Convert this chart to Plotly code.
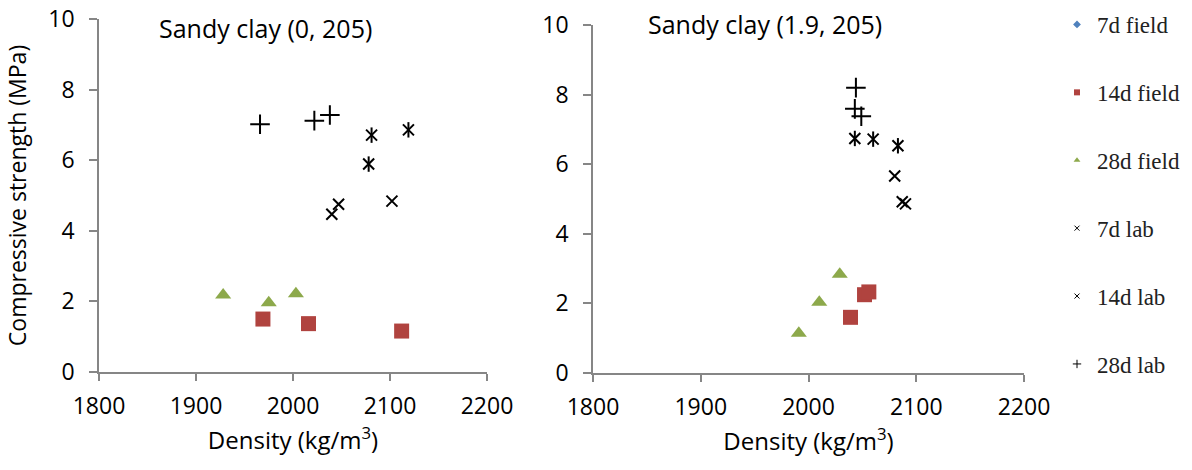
import plotly.graph_objects as go

# ---------------- data ----------------
# Left panel: Sandy clay (0, 205)
L_field14_density = [1969, 2016, 2112]
L_field14_strength = [1.50, 1.37, 1.16]
L_field28_density = [1928, 1975, 2003]
L_field28_strength = [2.18, 1.96, 2.22]
L_lab7_density = [2040, 2047, 2102]
L_lab7_strength = [4.47, 4.75, 4.84]
L_lab14_density = [2078, 2081, 2119]
L_lab14_strength = [5.89, 6.71, 6.86]
L_lab28_density = [1966, 2022, 2038]
L_lab28_strength = [7.02, 7.12, 7.28]

# Right panel: Sandy clay (1.9, 205)
R_field14_density = [2039, 2052, 2056]
R_field14_strength = [1.60, 2.25, 2.33]
R_field28_density = [1991, 2010, 2029]
R_field28_strength = [1.14, 2.03, 2.84]
R_lab7_density = [2080, 2087, 2090]
R_lab7_strength = [5.66, 4.92, 4.86]
R_lab14_density = [2043, 2060, 2083]
R_lab14_strength = [6.74, 6.72, 6.53]
R_lab28_density = [2044, 2043, 2049]
R_lab28_strength = [8.20, 7.59, 7.38]

series_names = ["7d field", "14d field", "28d field", "7d lab", "14d lab", "28d lab"]
panel_titles = ["Sandy clay (0, 205)", "Sandy clay (1.9, 205)"]
x_ticks = [1800, 1900, 2000, 2100, 2200]
y_ticks = [0, 2, 4, 6, 8, 10]

# ---------------- styles ----------------
BLUE = "#4F81BD"
RED = "#B0433F"
GREEN = "#8DA94B"
BLACK = "#000000"
AXIS = "#868686"
FONT = "Open Sans"

fig = go.Figure()

panels = [
    ("x", "y", L_field14_density, L_field14_strength, L_field28_density, L_field28_strength,
     L_lab7_density, L_lab7_strength, L_lab14_density, L_lab14_strength, L_lab28_density, L_lab28_strength),
    ("x2", "y2", R_field14_density, R_field14_strength, R_field28_density, R_field28_strength,
     R_lab7_density, R_lab7_strength, R_lab14_density, R_lab14_strength, R_lab28_density, R_lab28_strength),
]

for (xa, ya, f14x, f14y, f28x, f28y, l7x, l7y, l14x, l14y, l28x, l28y) in panels:
    fig.add_trace(go.Scatter(x=f14x, y=f14y, mode="markers", xaxis=xa, yaxis=ya, showlegend=False,
                             marker=dict(symbol="square", size=15, color=RED)))
    fig.add_trace(go.Scatter(x=f28x, y=f28y, mode="markers", xaxis=xa, yaxis=ya, showlegend=False,
                             marker=dict(symbol="triangle-up", size=14, color=GREEN)))
    fig.add_trace(go.Scatter(x=l7x, y=l7y, mode="markers", xaxis=xa, yaxis=ya, showlegend=False,
                             marker=dict(symbol="x-thin-open", size=11, color=BLACK,
                                         line=dict(width=2, color=BLACK))))
    fig.add_trace(go.Scatter(x=l14x, y=l14y, mode="markers", xaxis=xa, yaxis=ya, showlegend=False,
                             marker=dict(symbol="x-thin-open", size=11, color=BLACK,
                                         line=dict(width=2, color=BLACK))))
    fig.add_trace(go.Scatter(x=l14x, y=l14y, mode="markers", xaxis=xa, yaxis=ya, showlegend=False,
                             marker=dict(symbol="line-ns-open", size=11, color=BLACK,
                                         line=dict(width=2, color=BLACK))))
    fig.add_trace(go.Scatter(x=l28x, y=l28y, mode="markers", xaxis=xa, yaxis=ya, showlegend=False,
                             marker=dict(symbol="cross-thin-open", size=14, color=BLACK,
                                         line=dict(width=2, color=BLACK))))

# legend-only entries (small markers as in the reference)
legend_styles = [
    dict(symbol="diamond", size=6, color=BLUE),
    dict(symbol="square", size=6, color=RED),
    dict(symbol="triangle-up", size=6, color=GREEN),
    dict(symbol="x-thin-open", size=5, color=BLACK, line=dict(width=1, color=BLACK)),
    dict(symbol="x-thin-open", size=5, color=BLACK, line=dict(width=1, color=BLACK)),
    dict(symbol="cross-thin-open", size=6, color=BLACK, line=dict(width=1, color=BLACK)),
]
for name, mk in zip(series_names, legend_styles):
    fig.add_trace(go.Scatter(x=[None], y=[None], mode="markers", name=name, marker=mk,
                             legendgroup=name, showlegend=True, xaxis="x", yaxis="y"))

# the page body margin is removed below, so the figure fills the window
W, H = 1192, 470


def fx(px):
    return px / W


def fy(py):
    return 1 - py / H


axis_common = dict(
    showgrid=False, zeroline=False, showline=True, linecolor=AXIS, linewidth=1.5,
    ticks="outside", tickcolor=AXIS, tickwidth=1.5, automargin=False,
    ticklabeloverflow="allow",
    tickfont=dict(family=FONT, size=23, color="#000000"),
)

fig.update_layout(
    width=W, height=H,
    margin=dict(l=0, r=0, t=0, b=0, autoexpand=False),
    paper_bgcolor="white", plot_bgcolor="white",
    font=dict(family=FONT, color="#000000"),
    xaxis=dict(domain=[fx(99), fx(487)], range=[1800, 2200], tickvals=x_ticks, ticklen=7,
               anchor="y", ticklabelstandoff=6,
               title=dict(text="Density (kg/m<sup>3</sup>)", font=dict(family=FONT, size=24), standoff=7),
               **axis_common),
    yaxis=dict(domain=[fy(372), fy(19)], range=[0, 10], tickvals=y_ticks, ticklen=8,
               anchor="x", ticklabelstandoff=10,
               title=dict(text="Compressive strength (MPa)", font=dict(family=FONT, size=23), standoff=15),
               **axis_common),
    xaxis2=dict(domain=[fx(593), fx(1024)], range=[1800, 2200], tickvals=x_ticks, ticklen=7,
                anchor="y2", ticklabelstandoff=6,
                title=dict(text="Density (kg/m<sup>3</sup>)", font=dict(family=FONT, size=24), standoff=7),
                **axis_common),
    yaxis2=dict(domain=[fy(373), fy(25)], range=[0, 10], tickvals=y_ticks, ticklen=8,
                anchor="x2", ticklabelstandoff=10, **axis_common),
    legend=dict(x=fx(1057), y=fy(3), xanchor="left", yanchor="top", maxheight=465,
                font=dict(family="Liberation Serif", size=23, color="#222222"),
                tracegroupgap=35, bgcolor="rgba(0,0,0,0)", itemsizing="trace"),
    annotations=[
        dict(text=panel_titles[0], x=fx(265), y=fy(28), xref="paper", yref="paper",
             xanchor="center", yanchor="middle",
             showarrow=False, font=dict(family=FONT, size=25, color="#000000")),
        dict(text=panel_titles[1], x=fx(765), y=fy(24), xref="paper", yref="paper",
             xanchor="center", yanchor="middle",
             showarrow=False, font=dict(family=FONT, size=25, color="#000000")),
    ],
)

fig.write_html("out.html", config={"displayModeBar": False},
               post_script="document.body.style.margin='0';")
